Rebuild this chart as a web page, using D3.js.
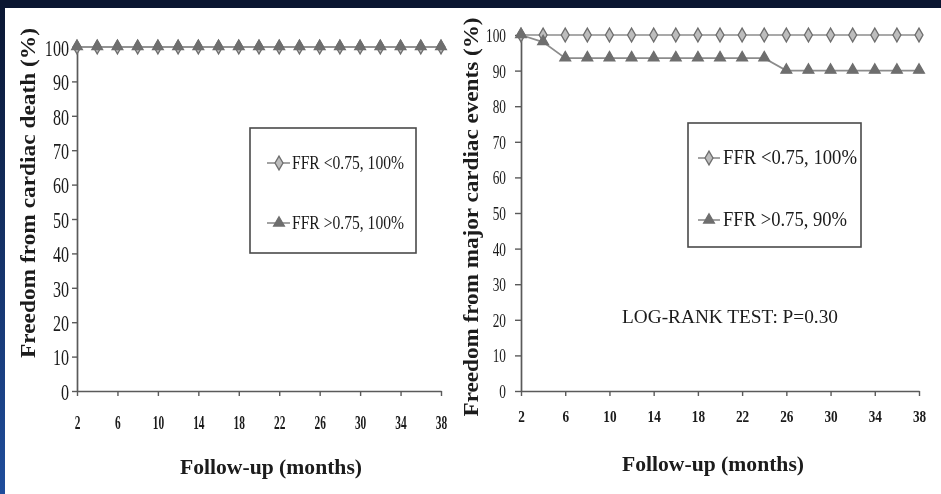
<!DOCTYPE html>
<html><head><meta charset="utf-8">
<script src="https://cdn.jsdelivr.net/npm/d3@7"></script>
<style>body{margin:0;background:#fff}svg{display:block}text{font-family:"Liberation Serif","Times New Roman",serif;fill:#1a1a1a}</style>
</head><body>
<svg id="c" width="941" height="494"></svg>
<script>
const months = [2,4,6,8,10,12,14,16,18,20,22,24,26,28,30,32,34,36,38];
const deathLow  = [100,100,100,100,100,100,100,100,100,100,100,100,100,100,100,100,100,100,100];
const deathHigh = [100,100,100,100,100,100,100,100,100,100,100,100,100,100,100,100,100,100,100];
const maceLow   = [100,100,100,100,100,100,100,100,100,100,100,100,100,100,100,100,100,100,100];
const maceHigh  = [100,98,93.5,93.5,93.5,93.5,93.5,93.5,93.5,93.5,93.5,93.5,90,90,90,90,90,90,90];
const xTicks = [2,6,10,14,18,22,26,30,34,38];
const yTicks = [0,10,20,30,40,50,60,70,80,90,100];
const legendLeft  = ["FFR <0.75, 100%", "FFR >0.75, 100%"];
const legendRight = ["FFR <0.75, 100%", "FFR >0.75, 90%"];
const yTitleLeft = "Freedom from cardiac death (%)";
const yTitleRight = "Freedom from major cardiac events (%)";
const xTitle = "Follow-up (months)";
const noteText = "LOG-RANK TEST: P=0.30";

const svg = d3.select("#c");
const defs = svg.append("defs");
const g1 = defs.append("linearGradient").attr("id","lg").attr("x1",0).attr("y1",0).attr("x2",0).attr("y2",1);
g1.append("stop").attr("offset","0%").attr("stop-color","#0a1631");
g1.append("stop").attr("offset","100%").attr("stop-color","#1f4d9c");
defs.append("filter").attr("id","soft").append("feGaussianBlur").attr("stdDeviation",0.35);
svg.append("rect").attr("width",941).attr("height",494).attr("fill","#fff");
svg.append("rect").attr("x",0).attr("y",0).attr("width",5).attr("height",494).attr("fill","url(#lg)");
svg.append("rect").attr("x",0).attr("y",0).attr("width",941).attr("height",8).attr("fill","#0a1631");

const diamond = d3.symbol().type(d3.symbolDiamond).size(55);
const triangle = d3.symbol().type(d3.symbolTriangle).size(50);

function panel(cfg){
  const x = d3.scaleLinear().domain([2,38]).range([cfg.x0,cfg.x1]);
  const y = d3.scaleLinear().domain([0,100]).range([cfg.yb,cfg.yt]);
  const g = svg.append("g").attr("filter","url(#soft)");
  const ya = g.append("g").attr("transform",`translate(${cfg.x0},0)`)
    .call(d3.axisLeft(y).tickValues(yTicks).tickSize(cfg.yTick).tickSizeOuter(0).tickPadding(0));
  ya.select(".domain").attr("stroke","#5a5a5a").attr("stroke-width",1.7);
  ya.selectAll(".tick line").attr("stroke","#5a5a5a").attr("stroke-width",1.4);
  ya.selectAll(".tick text").attr("font-size",cfg.yFs).attr("font-family","Liberation Serif").attr("fill","#1a1a1a")
    .attr("transform",`scale(${cfg.yScale},1)`).attr("x",-cfg.yGap/cfg.yScale).attr("dy","0.36em");
  const xa = g.append("g").attr("transform",`translate(0,${cfg.yb})`)
    .call(d3.axisBottom(x).tickValues(xTicks).tickSize(5).tickSizeOuter(0).tickPadding(0));
  xa.select(".domain").attr("stroke","#5a5a5a").attr("stroke-width",1.7);
  xa.selectAll(".tick line").attr("stroke","#5a5a5a").attr("stroke-width",1.4);
  xa.selectAll(".tick text").attr("font-size",cfg.xFs).attr("font-family","Liberation Serif").attr("fill","#1a1a1a")
    .attr("transform",`scale(${cfg.xScale},1)`).attr("y",cfg.xLabY).attr("dy",0).attr("font-weight","bold");
  const line = d3.line().x((d,i)=>x(months[i])).y(d=>y(d));
  cfg.series.forEach(s=>{
    g.append("path").attr("d",line(s.values)).attr("fill","none").attr("stroke","#8c8c8c").attr("stroke-width",1.7);
  });
  cfg.series.forEach(s=>{
    g.selectAll(null).data(s.values).enter().append("path")
      .attr("transform",(d,i)=>`translate(${x(months[i])},${y(d)+(s.type==="tri"?-0.5:0)})`)
      .attr("d", s.type==="tri"?triangle:diamond)
      .attr("fill", s.type==="tri"?"#6e6e6e":"#bdbdbd")
      .attr("stroke", s.type==="tri"?"#6e6e6e":"#6e6e6e").attr("stroke-width",1.3);
  });
  const L = cfg.legend;
  g.append("rect").attr("x",L.x).attr("y",L.y).attr("width",L.w).attr("height",L.h)
    .attr("fill","#fff").attr("stroke","#4a4a4a").attr("stroke-width",1.6);
  cfg.series.forEach((s,i)=>{
    const yy = L.rows[i];
    g.append("line").attr("x1",L.lx1).attr("x2",L.lx2).attr("y1",yy).attr("y2",yy).attr("stroke","#8c8c8c").attr("stroke-width",1.6);
    g.append("path").attr("transform",`translate(${L.mx},${yy})`).attr("d", s.type==="tri"?triangle:diamond)
      .attr("fill", s.type==="tri"?"#6e6e6e":"#bdbdbd").attr("stroke","#6e6e6e").attr("stroke-width",1.3);
    g.append("text").attr("x",L.tx).attr("y",yy+6).attr("font-size",L.fs).attr("textLength",L.tw[i]).attr("lengthAdjust","spacingAndGlyphs").text(s.label);
  });
  g.append("text").attr("transform",`translate(${cfg.ytX},${cfg.ytY}) rotate(-90)`).attr("text-anchor","middle")
    .attr("font-weight","bold").attr("font-size",21).attr("textLength",cfg.ytLen).attr("lengthAdjust","spacingAndGlyphs").text(cfg.yTitle);
  g.append("text").attr("x",cfg.xtX).attr("y",cfg.xtY).attr("text-anchor","middle")
    .attr("font-weight","bold").attr("font-size",20).attr("textLength",182).attr("lengthAdjust","spacingAndGlyphs").text(xTitle);
}

panel({x0:77,x1:441,yt:47,yb:391,yTick:5,yFs:23,yScale:0.7,yGap:8,xFs:19,xScale:0.6,xLabY:38,
  series:[{values:deathLow,type:"dia",label:legendLeft[0]},{values:deathHigh,type:"tri",label:legendLeft[1]}],
  legend:{x:250,y:128,w:166,h:125,rows:[163,223],lx1:267,lx2:290,mx:279,tx:292,fs:19,tw:[112,112]},
  yTitle:yTitleLeft,ytX:35,ytY:193,ytLen:330,xtX:271,xtY:474});

panel({x0:521,x1:919,yt:35,yb:391,yTick:6,yFs:18,yScale:0.74,yGap:15,xFs:17,xScale:0.78,xLabY:31,
  series:[{values:maceLow,type:"dia",label:legendRight[0]},{values:maceHigh,type:"tri",label:legendRight[1]}],
  legend:{x:688,y:123,w:173,h:124,rows:[158,220],lx1:698,lx2:720,mx:709,tx:723,fs:20,tw:[134,124]},
  yTitle:yTitleRight,ytX:478,ytY:217,ytLen:399,xtX:713,xtY:471});

svg.append("text").attr("x",730).attr("y",323).attr("text-anchor","middle").attr("font-size",19)
  .attr("filter","url(#soft)")
  .attr("textLength",216).attr("lengthAdjust","spacingAndGlyphs").text(noteText);
</script>
</body></html>
